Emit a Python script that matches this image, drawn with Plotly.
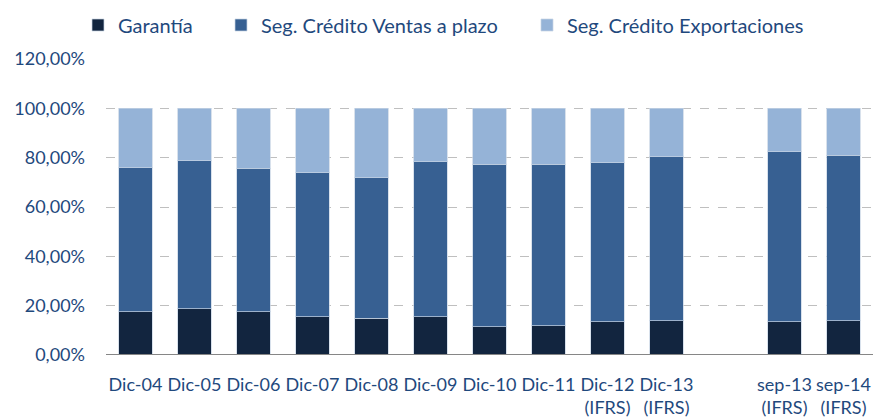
import plotly.graph_objects as go

categories = ["Dic-04", "Dic-05", "Dic-06", "Dic-07", "Dic-08", "Dic-09", "Dic-10",
              "Dic-11", "Dic-12<br>(IFRS)", "Dic-13<br>(IFRS)", " ",
              "sep-13<br>(IFRS)", "sep-14<br>(IFRS)"]
garantia = [0.175, 0.187, 0.175, 0.156, 0.150, 0.156, 0.114, 0.118, 0.135, 0.138, None, 0.135, 0.138]
ventas = [0.585, 0.600, 0.583, 0.583, 0.568, 0.627, 0.660, 0.655, 0.644, 0.666, None, 0.688, 0.672]
export = [0.240, 0.213, 0.242, 0.261, 0.282, 0.217, 0.226, 0.227, 0.221, 0.196, None, 0.177, 0.190]
y_ticks = [0, 0.2, 0.4, 0.6, 0.8, 1.0, 1.2]

FONT = "Lato"
TXT = "#1F497D"
edge = dict(color="rgba(200,212,228,0.7)", width=1)

W, H = 875, 418

fig = go.Figure()
fig.add_bar(x=categories, y=garantia, name="Garantía", marker=dict(color="#12253F", line=edge),
            width=0.57, legend="legend", showlegend=True)
fig.add_bar(x=categories, y=ventas, name="Seg. Crédito Ventas a plazo",
            marker=dict(color="#376092", line=edge), width=0.57, legend="legend2", showlegend=True)
fig.add_bar(x=categories, y=export, name="Seg. Crédito Exportaciones",
            marker=dict(color="#95B3D7", line=edge), width=0.57, legend="legend3", showlegend=True)

leg_common = dict(orientation="h", yanchor="middle", y=1 - 25 / H, yref="container",
                  xanchor="left", xref="container", font=dict(family=FONT, size=20, color=TXT),
                  bgcolor="rgba(0,0,0,0)", itemwidth=30, visible=True)

fig.update_layout(
    barmode="stack",
    width=W, height=H,
    showlegend=True,
    margin=dict(l=106, r=2, t=59, b=63, autoexpand=False),
    paper_bgcolor="white", plot_bgcolor="white",
    separators=",.",
    font=dict(family=FONT, size=18, color=TXT),
    legend=dict(**leg_common, x=(93 - 15) / W),
    legend2=dict(**leg_common, x=(237 - 16) / W),
    legend3=dict(**leg_common, x=(543 - 16) / W),
    xaxis=dict(type="category", categoryorder="array", categoryarray=categories,
               showgrid=False, showline=False, ticks="", ticklabelstandoff=17, automargin=False,
               ticklabeloverflow="allow",
               tickfont=dict(family=FONT, size=18, color=TXT)),
    yaxis=dict(range=[0, 1.2], tickvals=y_ticks, tickformat=".2%", automargin=False,
               showgrid=True, gridcolor="#BFBFBF", griddash="dash", gridwidth=1,
               zeroline=False, showline=False, ticks="", ticklabelstandoff=20,
               tickfont=dict(family=FONT, size=18, color=TXT)),
)
fig.add_hline(y=0, line=dict(color="#868686", width=2))

fig.write_html("out.html", config={"displayModeBar": False},
               post_script="document.body.style.margin='0';document.body.style.overflow='hidden';")
